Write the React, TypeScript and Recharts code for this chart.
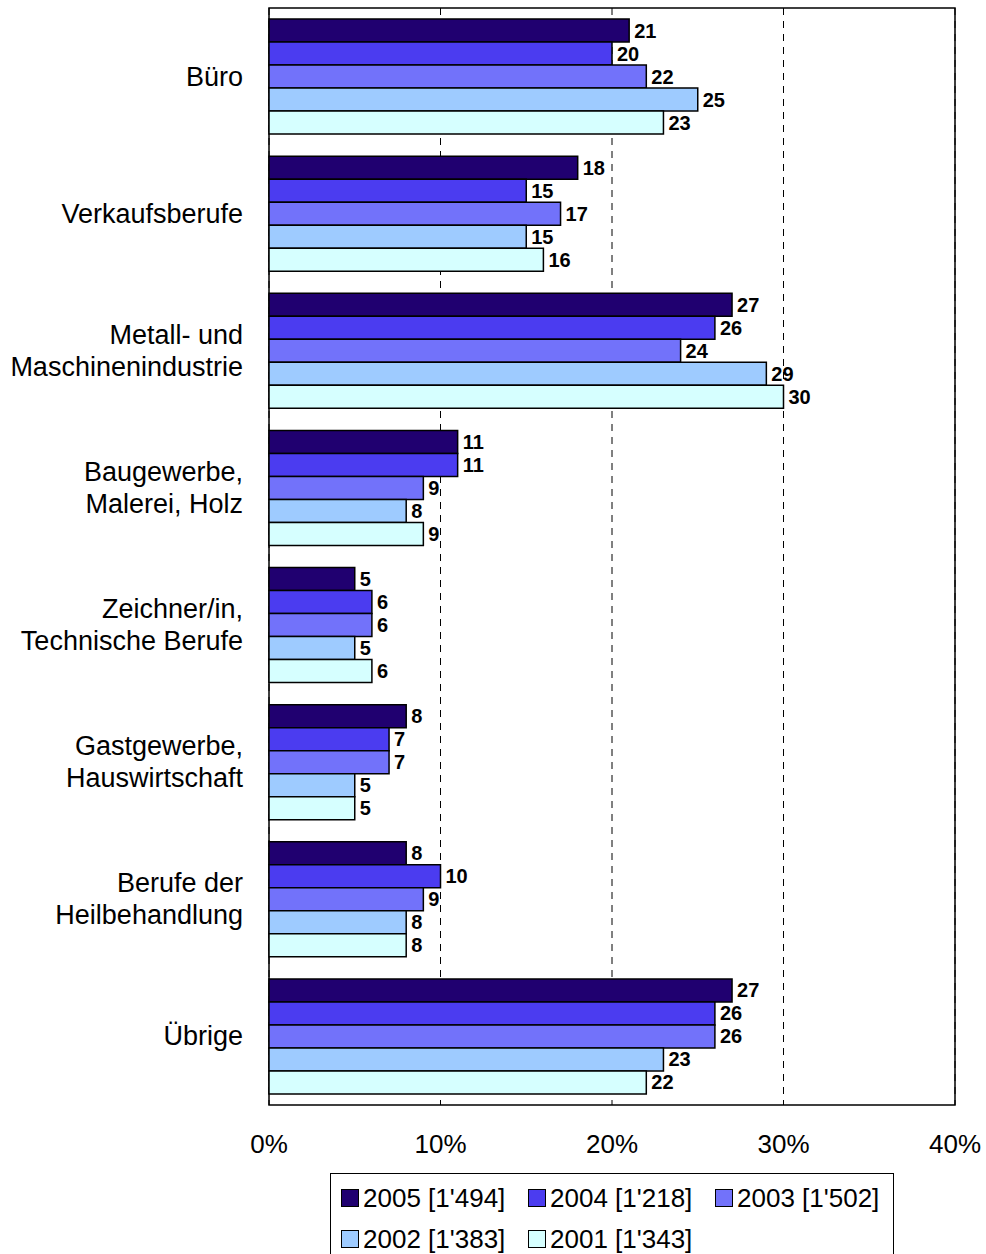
import {
  Bar,
  BarChart,
  CartesianGrid,
  LabelList,
  ReferenceArea,
  XAxis,
  YAxis,
} from "recharts";

const categories = [
  "Büro",
  "Verkaufsberufe",
  "Metall- und\nMaschinenindustrie",
  "Baugewerbe,\nMalerei, Holz",
  "Zeichner/in,\nTechnische Berufe",
  "Gastgewerbe,\nHauswirtschaft",
  "Berufe der\nHeilbehandlung",
  "Übrige",
];

const y2005 = [21, 18, 27, 11, 5, 8, 8, 27];
const y2004 = [20, 15, 26, 11, 6, 7, 10, 26];
const y2003 = [22, 17, 24, 9, 6, 7, 9, 26];
const y2002 = [25, 15, 29, 8, 5, 5, 8, 23];
const y2001 = [23, 16, 30, 9, 6, 5, 8, 22];

const xTicks = [0, 10, 20, 30, 40];

const series = [
  { key: "y2005", label: "2005 [1'494]", color: "#200070" },
  { key: "y2004", label: "2004 [1'218]", color: "#4b3cf0" },
  { key: "y2003", label: "2003 [1'502]", color: "#7272fa" },
  { key: "y2002", label: "2002 [1'383]", color: "#9ecbff" },
  { key: "y2001", label: "2001 [1'343]", color: "#d6ffff" },
];

const data = categories.map((name, i) => ({
  name,
  y2005: y2005[i],
  y2004: y2004[i],
  y2003: y2003[i],
  y2002: y2002[i],
  y2001: y2001[i],
}));

const FONT = "'Liberation Sans', Arial, sans-serif";

function CategoryTick(props: any) {
  const { x, y, payload } = props;
  const lines = String(payload.value).split("\n");
  const lh = 32;
  const start = y - ((lines.length - 1) * lh) / 2;
  return (
    <text
      x={x}
      y={start}
      textAnchor="end"
      fontFamily={FONT}
      fontSize={27}
      fill="#000"
      dominantBaseline="central"
    >
      {lines.map((l, i) => (
        <tspan key={i} x={x} y={start + i * lh} dominantBaseline="central">
          {l}
        </tspan>
      ))}
    </text>
  );
}

function LegendBox() {
  return (
    <div
      style={{
        position: "absolute",
        left: 330,
        top: 1173,
        width: 564,
        height: 90,
        border: "1.5px solid #000",
        boxSizing: "border-box",
        fontFamily: FONT,
        fontSize: 26,
        background: "#fff",
      }}
    >
      {series.map((s, i) => (
        <div
          key={s.key}
          style={{
            position: "absolute",
            left: 10 + (i % 3) * 187,
            top: 9 + Math.floor(i / 3) * 41,
            display: "flex",
            alignItems: "center",
            whiteSpace: "nowrap",
            lineHeight: "30px",
          }}
        >
          <span
            style={{
              display: "inline-block",
              width: 16,
              height: 16,
              background: s.color,
              border: "1.5px solid #000",
              marginRight: 4,
            }}
          />
          {s.label}
        </div>
      ))}
    </div>
  );
}

export default function App() {
  return (
    <div style={{ position: "relative", width: 986, height: 1254, background: "#fff" }}>
      <style>{`body{margin:0}`}</style>
      <div style={{ position: "absolute", left: 0, top: 0 }}>
        <BarChart
          width={986}
          height={1254}
          data={data}
          layout="vertical"
          margin={{ top: 8, right: 31, bottom: 89, left: 0 }}
          barCategoryGap={11}
          barGap={0}
        >
          <CartesianGrid
            horizontal={false}
            stroke="#000"
            strokeDasharray="7 6"
          />
          <XAxis
            type="number"
            domain={[0, 40]}
            ticks={xTicks}
            tickFormatter={(v) => `${v}%`}
            height={60}
            tickLine={false}
            axisLine={false}
            tickSize={0}
            tickMargin={30}
            tick={{ fill: "#000", fontSize: 26, fontFamily: FONT }}
          />
          <YAxis
            type="category"
            dataKey="name"
            width={269}
            tickLine={false}
            axisLine={false}
            tickSize={0}
            tickMargin={26}
            tick={<CategoryTick />}
            interval={0}
          />
          {series.map((s) => (
            <Bar
              key={s.key}
              dataKey={s.key}
              fill={s.color}
              stroke="#000"
              strokeWidth={1.5}
              isAnimationActive={false}
            >
              <LabelList
                dataKey={s.key}
                position="right"
                offset={5}
                style={{
                  fill: "#000",
                  fontWeight: "bold",
                  fontSize: 20,
                  fontFamily: FONT,
                }}
              />
            </Bar>
          ))}
          <ReferenceArea
            x1={0}
            x2={40}
            fill="none"
            stroke="#000"
            strokeWidth={1.5}
            ifOverflow="visible"
          />
        </BarChart>
      </div>
      <LegendBox />
    </div>
  );
}
